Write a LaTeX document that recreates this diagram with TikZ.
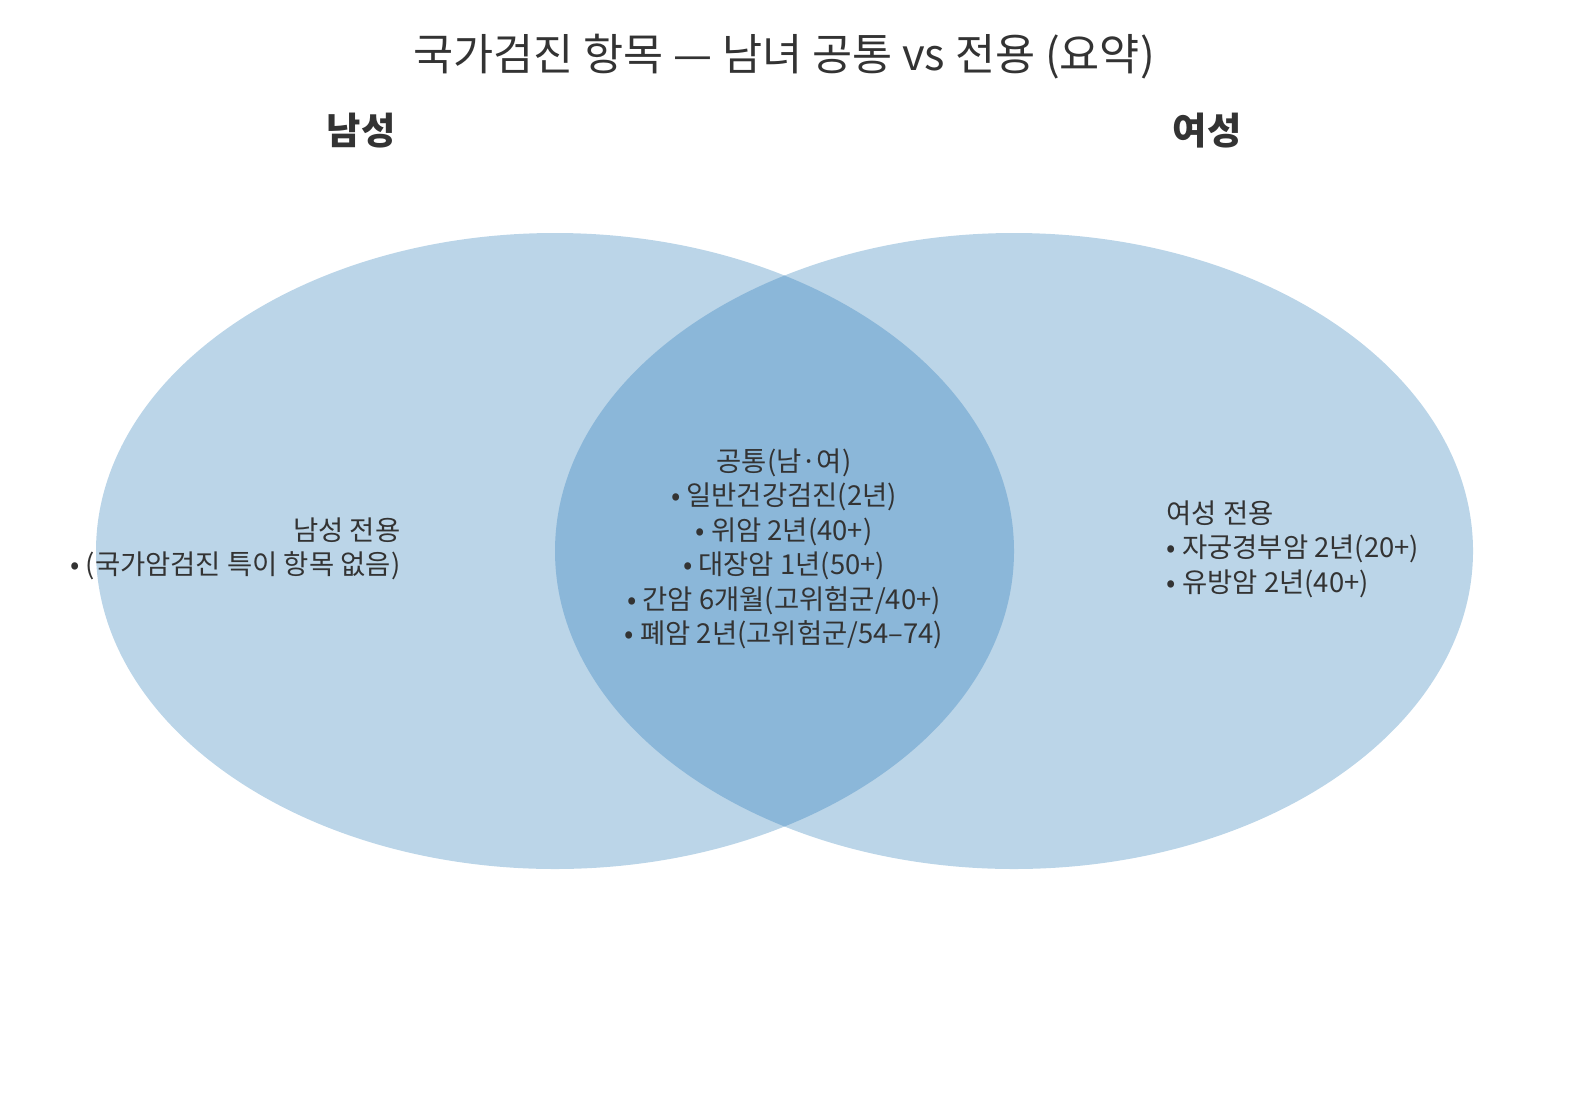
\documentclass[tikz,border=0pt]{standalone}
\usepackage{fontspec}
\setmainfont{Noto Sans CJK KR}
\definecolor{lightb}{RGB}{187,213,232}
\definecolor{darkb}{RGB}{139,183,217}
\definecolor{txt}{RGB}{51,51,51}
\tikzset{body/.style={text=txt,font=\fontsize{7.8}{9.8}\selectfont,inner sep=0pt}}
\begin{document}
\begin{tikzpicture}[x=0.01cm,y=-0.01cm]
\useasboundingbox (0,0) rectangle (1589,1118);
\fill[lightb] (555,551) ellipse [x radius=459, y radius=318];
\fill[lightb] (1014,551) ellipse [x radius=459, y radius=318];
\begin{scope}
\clip (555,551) ellipse [x radius=459, y radius=318];
\fill[darkb] (1014,551) ellipse [x radius=459, y radius=318];
\end{scope}
\node[text=txt,font=\fontsize{12.4}{14}\selectfont] (title) at (784,57) {국가검진 항목 — 남녀 공통 vs 전용 (요약)};
\node[text=txt,font=\fontsize{10.6}{12}\selectfont\bfseries] (men) at (361,131) {남성};
\node[text=txt,font=\fontsize{10.6}{12}\selectfont\bfseries] (women) at (1207,131) {여성};
\node[body,align=right,anchor=east] (l) at (401,549) {남성 전용\\• (국가암검진 특이 항목 없음)};
\node[body,align=center] (c) at (784,549) {공통(남·여)\\• 일반건강검진(2년)\\• 위암 2년(40+)\\• 대장암 1년(50+)\\• 간암 6개월(고위험군/40+)\\• 폐암 2년(고위험군/54–74)};
\node[body,align=left,anchor=west] (r) at (1166,549) {여성 전용\\• 자궁경부암 2년(20+)\\• 유방암 2년(40+)};
\end{tikzpicture}
\end{document}
